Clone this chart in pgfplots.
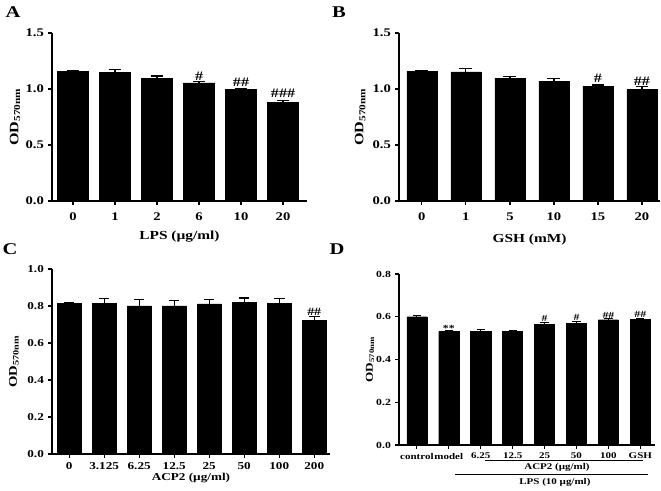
\documentclass[border=0pt]{standalone}
\usepackage{fontspec}
\setmainfont[FakeStretch=1.25]{Liberation Serif}
\usepackage{pgfplots}
\pgfplotsset{compat=1.18}

\newcommand{\fs}[1]{\bfseries\fontsize{#1}{#1}\selectfont}

\pgfplotsset{
  panel/.style={
    scale only axis,
    ybar, ymin=0,
    enlargelimits=false,
    axis x line*=bottom, axis y line*=left,
    axis line style={line width=1.2pt, black},
    xtick=data,
    tick align=outside,
    major tick length=0.12cm,
    tick style={line width=1pt, black},
    every tick label/.append style={font=\fs{10}},
    /pgf/number format/assume math mode=true,
    yticklabel style={/pgf/number format/.cd, fixed, fixed zerofill, precision=1},
    xlabel style={font=\fs{10.5}, anchor=center},
    ylabel style={font=\fs{11}, anchor=center},
    clip=false,
  },
  bars/.style={
    fill=black, draw=black,
    error bars/.cd, y dir=plus, y explicit,
    error bar style={line width=1pt, black},
    error mark options={rotate=90, mark size=#1, line width=1pt, black},
  },
}
\tikzset{ann/.style={anchor=south, inner sep=0pt, font=\fs{#1}}}

\begin{document}
\begin{tikzpicture}
\useasboundingbox (0,0) rectangle (19.83cm,14.73cm);

% ---------- A ----------
\begin{axis}[panel, at={(1.56cm,8.70cm)}, anchor=south west,
  width=7.65cm, height=5.04cm,
  xmin=-0.5, xmax=5.57, ymax=1.5, ytick={0,0.5,1,1.5},
  bar width=0.74,
  xticklabels={0,1,2,6,10,20}, xticklabel style={yshift=-0.1cm},
  xlabel={LPS (µg/ml)}, xlabel style={at={(axis description cs:0.5,-0.214)}},
  ylabel={OD\textsubscript{570nm}}, ylabel style={at={(axis description cs:-0.145,0.5)}},
]
\addplot[bars=5.5pt] coordinates {
  (0,1.155) +- (0,0.012)
  (1,1.150) +- (0,0.025)
  (2,1.098) +- (0,0.018)
  (3,1.054) +- (0,0.012)
  (4,0.998) +- (0,0.008)
  (5,0.880) +- (0,0.015)
};
\node[ann=11] at (axis cs:3,1.075) {\#};
\node[ann=11] at (axis cs:4,1.020) {\#\#};
\node[ann=11] at (axis cs:5,0.925) {\#\#\#};
\end{axis}

% ---------- B ----------
\begin{axis}[panel, at={(11.97cm,8.70cm)}, anchor=south west,
  width=7.83cm, height=5.04cm,
  xmin=-0.52, xmax=5.41, ymax=1.5, ytick={0,0.5,1,1.5},
  bar width=0.68,
  xticklabels={0,1,5,10,15,20}, xticklabel style={yshift=-0.1cm},
  xlabel={GSH (mM)}, xlabel style={at={(axis description cs:0.5,-0.232)}},
  ylabel={OD\textsubscript{570nm}}, ylabel style={at={(axis description cs:-0.149,0.5)}},
]
\addplot[bars=5.5pt] coordinates {
  (0,1.158) +- (0,0.006)
  (1,1.152) +- (0,0.030)
  (2,1.098) +- (0,0.015)
  (3,1.068) +- (0,0.024)
  (4,1.024) +- (0,0.012)
  (5,0.994) +- (0,0.030)
};
\node[ann=11] at (axis cs:4,1.055) {\#};
\node[ann=11] at (axis cs:5,1.025) {\#\#};
\end{axis}

% ---------- C ----------
\begin{axis}[panel, at={(1.56cm,1.11cm)}, anchor=south west,
  width=8.34cm, height=5.55cm,
  xmin=-0.49, xmax=7.45, ymax=1.0, ytick={0,0.2,0.4,0.6,0.8,1.0},
  bar width=0.69,
  every tick label/.append style={font=\fs{9}},
  xticklabels={0,3.125,6.25,12.5,25,50,100,200},
  xlabel={ACP2 (µg/ml)}, xlabel style={font=\fs{9}, at={(axis description cs:0.5,-0.13)}},
  ylabel={OD\textsubscript{570nm}}, ylabel style={font=\fs{10}, at={(axis description cs:-0.137,0.5)}},
]
\addplot[bars=4.5pt] coordinates {
  (0,0.815) +- (0,0.005)
  (1,0.815) +- (0,0.025)
  (2,0.800) +- (0,0.035)
  (3,0.800) +- (0,0.030)
  (4,0.812) +- (0,0.024)
  (5,0.818) +- (0,0.025)
  (6,0.815) +- (0,0.025)
  (7,0.722) +- (0,0.022)
};
\node[ann=9.5] at (axis cs:7,0.748) {\#\#};
\end{axis}

% ---------- D ----------
\begin{axis}[panel, at={(11.97cm,1.38cm)}, anchor=south west,
  width=7.68cm, height=5.13cm,
  xmin=-0.56, xmax=7.46, ymax=0.8, ytick={0,0.2,0.4,0.6,0.8},
  bar width=0.63,
  every tick label/.append style={font=\fs{8}},
  xticklabel style={font=\fs{7.5}},
  xticklabels={control,model,6.25,12.5,25,50,100,GSH},
  ylabel={OD\textsubscript{570nm}}, ylabel style={font=\fs{9}, at={(axis description cs:-0.113,0.5)}},
]
\addplot[bars=3.5pt] coordinates {
  (0,0.600) +- (0,0.004)
  (1,0.530) +- (0,0.004)
  (2,0.530) +- (0,0.012)
  (3,0.532) +- (0,0.005)
  (4,0.565) +- (0,0.008)
  (5,0.568) +- (0,0.010)
  (6,0.586) +- (0,0.005)
  (7,0.589) +- (0,0.004)
};
\node[ann=8] at (axis cs:1,0.532) {**};
\node[ann=8] at (axis cs:4,0.575) {\#};
\node[ann=8] at (axis cs:5,0.580) {\#};
\node[ann=8] at (axis cs:6,0.592) {\#\#};
\node[ann=8] at (axis cs:7,0.595) {\#\#};
\draw[line width=0.8pt] (axis description cs:0.336,-0.088) -- (axis description cs:0.953,-0.088);
\node[font=\fs{7.5}] at (axis description cs:0.617,-0.129) {ACP2 (µg/ml)};
\draw[line width=0.8pt] (axis description cs:0.219,-0.170) -- (axis description cs:0.973,-0.170);
\node[font=\fs{7.5}] at (axis description cs:0.609,-0.216) {LPS (10 µg/ml)};
\end{axis}

% panel letters
\node[font=\fs{14}] at (13*0.03cm, {(491-12)*0.03cm}) {A};
\node[font=\fs{14}] at (339*0.03cm, {(491-12)*0.03cm}) {B};
\node[font=\fs{14}] at (10*0.03cm, {(491-249)*0.03cm}) {C};
\node[font=\fs{14}] at (337*0.03cm, {(491-249)*0.03cm}) {D};
\end{tikzpicture}
\end{document}
